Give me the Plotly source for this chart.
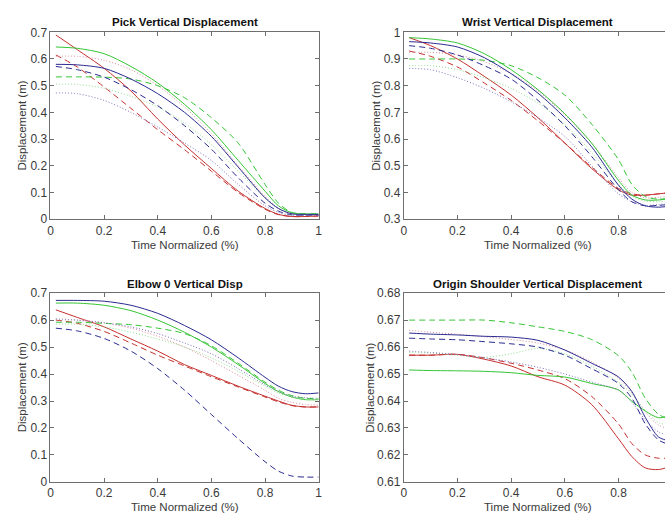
import plotly.graph_objects as go

W, H = 669, 523

x = [0.02, 0.1, 0.2, 0.3, 0.4, 0.5, 0.6, 0.7, 0.8, 0.85, 0.9, 0.95, 1.0]

# ---- Pick Vertical Displacement ----
pick_red_solid = [0.69, 0.635, 0.565, 0.48, 0.375, 0.278, 0.19, 0.105, 0.04, 0.018, 0.01, 0.01, 0.012]
pick_red_dash = [0.615, 0.57, 0.495, 0.415, 0.335, 0.26, 0.18, 0.10, 0.037, 0.017, 0.01, 0.01, 0.012]
pick_red_dot = [0.61, 0.61, 0.595, 0.56, 0.50, 0.42, 0.32, 0.20, 0.085, 0.04, 0.02, 0.016, 0.015]
pick_green_solid = [0.645, 0.64, 0.62, 0.572, 0.51, 0.43, 0.335, 0.22, 0.105, 0.05, 0.024, 0.02, 0.02]
pick_green_dash = [0.533, 0.533, 0.532, 0.525, 0.50, 0.455, 0.38, 0.285, 0.13, 0.06, 0.025, 0.02, 0.02]
pick_green_dot = [0.505, 0.505, 0.49, 0.46, 0.42, 0.36, 0.28, 0.18, 0.08, 0.04, 0.02, 0.018, 0.018]
pick_blue_solid = [0.58, 0.578, 0.565, 0.525, 0.47, 0.40, 0.31, 0.195, 0.08, 0.04, 0.02, 0.018, 0.018]
pick_blue_dash = [0.572, 0.56, 0.532, 0.485, 0.425, 0.35, 0.262, 0.155, 0.06, 0.03, 0.016, 0.015, 0.015]
pick_blue_dot = [0.473, 0.47, 0.445, 0.40, 0.345, 0.285, 0.22, 0.13, 0.05, 0.025, 0.015, 0.014, 0.014]

# ---- Wrist Vertical Displacement ----
wrist_red_solid = [0.98, 0.95, 0.90, 0.835, 0.765, 0.68, 0.585, 0.49, 0.41, 0.39, 0.39, 0.395, 0.40]
wrist_red_dash = [0.93, 0.91, 0.87, 0.81, 0.745, 0.668, 0.585, 0.495, 0.415, 0.395, 0.39, 0.395, 0.40]
wrist_red_dot = [0.925, 0.925, 0.915, 0.89, 0.845, 0.78, 0.69, 0.585, 0.455, 0.40, 0.38, 0.382, 0.385]
wrist_green_solid = [0.98, 0.975, 0.96, 0.92, 0.86, 0.785, 0.695, 0.585, 0.445, 0.39, 0.372, 0.372, 0.378]
wrist_green_dash = [0.90, 0.90, 0.90, 0.895, 0.875, 0.83, 0.765, 0.656, 0.523, 0.43, 0.385, 0.375, 0.38]
wrist_green_dot = [0.875, 0.875, 0.86, 0.83, 0.79, 0.735, 0.655, 0.55, 0.43, 0.385, 0.368, 0.365, 0.37]
wrist_blue_solid = [0.965, 0.96, 0.945, 0.905, 0.845, 0.772, 0.68, 0.571, 0.427, 0.375, 0.35, 0.345, 0.35]
wrist_blue_dash = [0.95, 0.94, 0.915, 0.875, 0.825, 0.745, 0.65, 0.535, 0.41, 0.365, 0.35, 0.352, 0.355]
wrist_blue_dot = [0.865, 0.86, 0.83, 0.79, 0.74, 0.68, 0.61, 0.50, 0.395, 0.365, 0.352, 0.355, 0.36]

# ---- Elbow 0 Vertical Disp ----
elbow_red_solid = [0.638, 0.61, 0.575, 0.53, 0.485, 0.435, 0.395, 0.355, 0.318, 0.30, 0.284, 0.278, 0.278]
elbow_red_dash = [0.60, 0.588, 0.558, 0.515, 0.47, 0.43, 0.39, 0.352, 0.315, 0.297, 0.283, 0.278, 0.278]
elbow_red_dot = [0.60, 0.60, 0.59, 0.57, 0.54, 0.50, 0.45, 0.395, 0.34, 0.31, 0.295, 0.287, 0.285]
elbow_green_solid = [0.663, 0.663, 0.655, 0.635, 0.60, 0.555, 0.50, 0.435, 0.365, 0.335, 0.315, 0.305, 0.305]
elbow_green_dash = [0.592, 0.592, 0.588, 0.583, 0.57, 0.55, 0.505, 0.44, 0.37, 0.34, 0.32, 0.31, 0.31]
elbow_green_dot = [0.585, 0.585, 0.575, 0.555, 0.53, 0.50, 0.46, 0.41, 0.355, 0.33, 0.315, 0.307, 0.305]
elbow_blue_solid = [0.673, 0.673, 0.67, 0.655, 0.625, 0.58, 0.527, 0.46, 0.388, 0.355, 0.335, 0.327, 0.33]
elbow_blue_dash = [0.57, 0.56, 0.532, 0.485, 0.42, 0.34, 0.25, 0.16, 0.075, 0.04, 0.022, 0.018, 0.018]
elbow_blue_dot = [0.605, 0.60, 0.59, 0.575, 0.55, 0.515, 0.475, 0.42, 0.36, 0.335, 0.318, 0.312, 0.31]

# ---- Origin Shoulder Vertical Displacement ----
sh_red_solid = [0.657, 0.657, 0.6573, 0.6555, 0.653, 0.649, 0.6459, 0.6387, 0.626, 0.6194, 0.6152, 0.6146, 0.616]
sh_red_dash = [0.657, 0.657, 0.6573, 0.656, 0.654, 0.6515, 0.6483, 0.6417, 0.6315, 0.6242, 0.620, 0.6188, 0.619]
sh_red_dot = [0.6662, 0.6655, 0.6648, 0.6638, 0.6628, 0.6615, 0.659, 0.6545, 0.6485, 0.643, 0.636, 0.631, 0.6295]
sh_green_solid = [0.6515, 0.6513, 0.6512, 0.651, 0.6505, 0.6495, 0.6489, 0.6465, 0.6441, 0.6399, 0.6363, 0.6338, 0.635]
sh_green_dash = [0.670, 0.670, 0.670, 0.670, 0.669, 0.6675, 0.6658, 0.6628, 0.6568, 0.6507, 0.641, 0.635, 0.633]
sh_green_dot = [0.658, 0.6578, 0.657, 0.6562, 0.6575, 0.6595, 0.6575, 0.653, 0.647, 0.6425, 0.6365, 0.632, 0.631]
sh_blue_solid = [0.6652, 0.6648, 0.6645, 0.664, 0.6637, 0.6625, 0.6589, 0.654, 0.6489, 0.6435, 0.6339, 0.6266, 0.625]
sh_blue_dash = [0.6633, 0.663, 0.6627, 0.662, 0.6612, 0.660, 0.657, 0.652, 0.6465, 0.641, 0.6315, 0.6255, 0.6235]
sh_blue_dot = [0.6585, 0.658, 0.6572, 0.656, 0.6545, 0.6525, 0.650, 0.647, 0.644, 0.6395, 0.633, 0.6285, 0.627]

titles = ["Pick Vertical Displacement", "Wrist Vertical Displacement",
          "Elbow 0 Vertical Disp", "Origin Shoulder Vertical Displacement"]
xlabel = "Time Normalized (%)"
ylabel = "Displacement (m)"

panels = [
    [pick_red_solid, pick_red_dash, pick_red_dot, pick_green_solid, pick_green_dash,
     pick_green_dot, pick_blue_solid, pick_blue_dash, pick_blue_dot],
    [wrist_red_solid, wrist_red_dash, wrist_red_dot, wrist_green_solid, wrist_green_dash,
     wrist_green_dot, wrist_blue_solid, wrist_blue_dash, wrist_blue_dot],
    [elbow_red_solid, elbow_red_dash, elbow_red_dot, elbow_green_solid, elbow_green_dash,
     elbow_green_dot, elbow_blue_solid, elbow_blue_dash, elbow_blue_dot],
    [sh_red_solid, sh_red_dash, sh_red_dot, sh_green_solid, sh_green_dash,
     sh_green_dot, sh_blue_solid, sh_blue_dash, sh_blue_dot],
]

styles = [
    ("#c4302e", "solid"), ("#c4302e", "6px,4px"), ("#d98a9a", "1px,2px"),
    ("#35c435", "solid"), ("#35c435", "6px,4px"), ("#8fdc8f", "1px,2px"),
    ("#2a2a90", "solid"), ("#2a2a90", "6px,4px"), ("#7a70b8", "1px,2px"),
]

# pixel boxes: (left, right, top, bottom)
boxes = [(48, 319, 26, 218), (405, 669, 26, 218), (48, 319, 294, 488), (405, 669, 294, 488)]
xranges = [[0, 1], [0, 264 / 271.25], [0, 1], [0, 264 / 271.25]]
yranges = [[0, 0.7], [0.3, 1.0], [0, 0.7], [0.61, 0.68]]
ydticks = [0.1, 0.1, 0.1, 0.01]
xtickvals = [[0, 0.2, 0.4, 0.6, 0.8, 1], [0, 0.2, 0.4, 0.6, 0.8],
             [0, 0.2, 0.4, 0.6, 0.8, 1], [0, 0.2, 0.4, 0.6, 0.8]]
title_y = [15, 15, 285, 285]
title_x = [183.5, 540.5, 183.5, 540.5]
xlab_y = [245, 245, 514, 514]
ylab_x = [19, 377, 19, 370]

FONT = "Liberation Sans, Arial, sans-serif"
AX = "#6e6e6e"
TXT = "#3a3a3a"

fig = go.Figure()
layout = dict(width=W, height=H, margin=dict(l=0, r=0, t=0, b=0),
              paper_bgcolor="white", plot_bgcolor="white", showlegend=False,
              font=dict(family=FONT, size=11, color=TXT))
annotations = []
for i in range(4):
    sfx = "" if i == 0 else str(i + 1)
    for ys, (col, dash) in zip(panels[i], styles):
        fig.add_trace(go.Scatter(x=x, y=ys, mode="lines",
                                 line=dict(color=col, width=1, dash=dash, shape="spline", smoothing=0.8),
                                 xaxis="x" + sfx, yaxis="y" + sfx, hoverinfo="skip"))
    l, r, t, b = boxes[i]
    right_col = i in (1, 3)
    layout["xaxis" + sfx] = dict(domain=[l / W, r / W], range=xranges[i], anchor="y" + sfx,
                                 tickvals=xtickvals[i], ticks="inside", ticklen=4,
                                 tickcolor=AX, showline=True, linecolor=AX, linewidth=1,
                                 mirror="ticks", showgrid=False, zeroline=False,
                                 tickfont=dict(size=12, color=TXT, family=FONT))
    layout["yaxis" + sfx] = dict(domain=[1 - b / H, 1 - t / H], range=yranges[i], anchor="x" + sfx,
                                 dtick=ydticks[i], tick0=0, ticks="inside", ticklen=4,
                                 tickcolor=AX, showline=True, linecolor=AX, linewidth=1,
                                 mirror=False if right_col else "ticks", showgrid=False,
                                 zeroline=False, tickfont=dict(size=12, color=TXT, family=FONT))
    annotations.append(dict(text="<b>" + titles[i] + "</b>", x=title_x[i] / W, y=1 - title_y[i] / H,
                            xref="paper", yref="paper", showarrow=False, xanchor="center",
                            yanchor="middle", font=dict(size=11.5, color="#111111", family=FONT)))
    annotations.append(dict(text=xlabel, x=title_x[i] / W, y=1 - xlab_y[i] / H,
                            xref="paper", yref="paper", showarrow=False, xanchor="center",
                            yanchor="middle", font=dict(size=11.5, color=TXT, family=FONT)))
    annotations.append(dict(text=ylabel, x=ylab_x[i] / W, y=1 - (t + b) / 2 / H,
                            xref="paper", yref="paper", showarrow=False, xanchor="center",
                            yanchor="middle", textangle=-90,
                            font=dict(size=11.5, color=TXT, family=FONT)))
layout["annotations"] = annotations
fig.update_layout(**layout)
fig.write_html("out.html", config={"displayModeBar": False},
               post_script="document.body.style.margin='0';document.body.style.overflow='hidden';")
